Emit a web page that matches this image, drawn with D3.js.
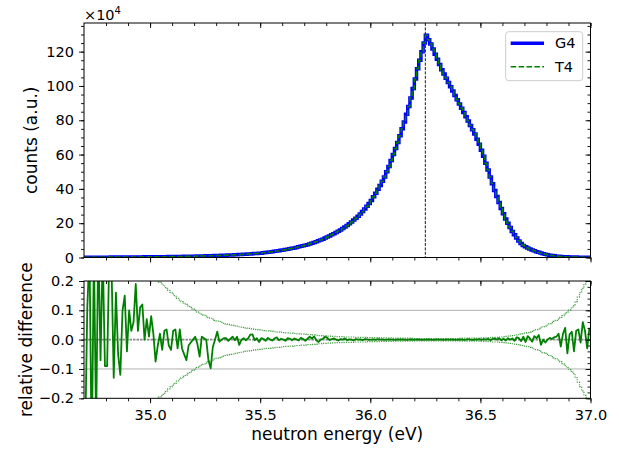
<!DOCTYPE html>
<html>
<head>
<meta charset="utf-8">
<script src="https://cdn.jsdelivr.net/npm/d3@7"></script>
<style>
  body { margin: 0; background: #ffffff; }
  svg  { font-family: 'DejaVu Sans', sans-serif; }
  .axis path { display: none; }
  .axis line { stroke: #000000; stroke-width: 0.9; }
  .axis text { font-family: 'DejaVu Sans', sans-serif; font-size: 14.5px; fill: #000000; }
</style>
</head>
<body>
<div id="graph"></div>
<script>
// Histogram binning (eV): 230 bins of 0.01 eV starting at 34.70
var energyStart = 34.70;
var binWidth    = 0.01;
var nBins       = 230;

// G4 counts per bin (units of 1e4)
var g4Counts = [
    0.15, 0.15, 0.16, 0.16, 0.17, 0.17, 0.18, 0.18, 0.19, 0.19,
    0.20, 0.21, 0.22, 0.23, 0.24, 0.25, 0.26, 0.27, 0.28, 0.29,
    0.30, 0.31, 0.32, 0.33, 0.34, 0.35, 0.36, 0.37, 0.38, 0.39,
    0.40, 0.41, 0.43, 0.44, 0.46, 0.47, 0.49, 0.50, 0.52, 0.53,
    0.55, 0.57, 0.60, 0.62, 0.65, 0.67, 0.70, 0.72, 0.75, 0.77,
    0.80, 0.83, 0.87, 0.90, 0.94, 0.97, 1.01, 1.05, 1.09, 1.12,
    1.15, 1.20, 1.25, 1.30, 1.35, 1.40, 1.46, 1.52, 1.58, 1.64,
    1.70, 1.77, 1.85, 1.93, 2.01, 2.10, 2.19, 2.28, 2.37, 2.45,
    2.55, 2.70, 2.85, 3.00, 3.20, 3.40, 3.60, 3.80, 4.00, 4.20,
    4.35, 4.60, 4.85, 5.10, 5.35, 5.60, 5.90, 6.20, 6.50, 6.80,
    7.1, 7.5, 7.9, 8.3, 8.8, 9.2, 9.7, 10.2, 10.7, 11.3,
    11.9, 12.5, 13.2, 13.9, 14.6, 15.3, 16.1, 16.9, 17.8, 18.7,
    19.7, 20.7, 21.8, 22.9, 24.1, 25.4, 26.8, 28.3, 29.9, 31.5,
    33.3, 35.4, 37.5, 39.8, 42.0, 44.5, 47.0, 50.0, 53.0, 56.5,
    60.0, 63.5, 67.0, 71.0, 75.0, 79.0, 83.5, 88.0, 93.0, 98.5,
    104, 110, 115, 120, 125, 129.5, 127, 124.5, 121.5, 118.5,
    115.5, 112.5, 109.5, 107, 104.5, 102, 99.5, 97, 94.5, 92,
    89.5, 87, 84.5, 82, 79.5, 77, 74.5, 72, 69, 66,
    62.5, 59, 55, 51, 47, 43, 39, 35.5, 32, 28.5,
    25.5, 22.5, 20.0, 17.5, 15.2, 13.2, 11.4, 9.6, 8.2, 7.0,
    6.2, 5.5, 4.9, 4.4, 3.9, 3.4, 3.0, 2.6, 2.2, 1.9,
    1.6, 1.35, 1.15, 0.95, 0.80, 0.68, 0.58, 0.50, 0.43, 0.37,
    0.31, 0.28, 0.25, 0.22, 0.20, 0.18, 0.16, 0.15, 0.14, 0.13
];

// T4 counts per bin (units of 1e4)
var t4Counts = [
    0.14, 0.17, 0.17, 0.15, 0.18, 0.16, 0.19, 0.17, 0.20, 0.18,
    0.19, 0.22, 0.23, 0.22, 0.25, 0.24, 0.25, 0.28, 0.29, 0.28,
    0.31, 0.31, 0.33, 0.35, 0.34, 0.36, 0.37, 0.37, 0.39, 0.39,
    0.42, 0.41, 0.40, 0.44, 0.46, 0.46, 0.50, 0.51, 0.51, 0.52,
    0.56, 0.58, 0.60, 0.62, 0.64, 0.65, 0.69, 0.71, 0.74, 0.77,
    0.80, 0.83, 0.83, 0.90, 0.94, 0.97, 0.95, 0.96, 1.07, 1.12,
    1.18, 1.19, 1.25, 1.30, 1.35, 1.40, 1.46, 1.53, 1.58, 1.66,
    1.67, 1.77, 1.85, 1.93, 2.02, 2.13, 2.23, 2.28, 2.38, 2.43,
    2.56, 2.70, 2.84, 3.01, 3.20, 3.39, 3.61, 3.83, 4.00, 4.21,
    4.35, 4.58, 4.87, 5.11, 5.34, 5.62, 5.90, 6.18, 6.54, 6.81,
    7.1, 7.5, 8.0, 8.3, 8.9, 9.2, 9.6, 10.2, 10.7, 11.4,
    12.0, 12.5, 13.2, 13.9, 14.6, 15.3, 16.1, 16.9, 17.9, 18.7,
    19.7, 20.7, 21.7, 22.9, 24.1, 25.4, 26.7, 28.4, 29.9, 31.5,
    33.3, 35.4, 37.5, 39.9, 42.0, 44.5, 47.0, 50.0, 53.1, 56.5,
    60.0, 63.4, 67.1, 71.0, 75.1, 79.0, 83.4, 88.0, 93.1, 98.5,
    104, 110, 115, 120, 125, 129.5, 127, 124.5, 121.4, 118.5,
    115.6, 112.5, 109.5, 106.9, 104.6, 102, 99.5, 97.1, 94.4, 92,
    89.5, 87.1, 84.4, 82, 79.7, 77, 74.4, 72.1, 69, 66.1,
    62.4, 59.1, 55, 51.2, 46.9, 43.1, 39.2, 35.5, 32.2, 28.4,
    25.6, 22.4, 20.1, 17.5, 15.3, 13.1, 11.5, 9.7, 8.2, 7.1,
    6.1, 5.6, 4.9, 4.4, 3.9, 3.4, 2.9, 2.6, 2.2, 1.9,
    1.6, 1.36, 1.15, 0.96, 0.81, 0.69, 0.57, 0.51, 0.45, 0.35,
    0.32, 0.29, 0.24, 0.23, 0.21, 0.18, 0.17, 0.15, 0.14, 0.14
];

// relative difference per bin
var relDiff = [
    -0.35, 0.11, 0.30, -0.40, 0.30, -0.30, 0.35, -0.07, 0.30, -0.09,
    -0.09, 0.30, 0.25, -0.13, 0.16, -0.05, -0.12, 0.10, 0.15, -0.04,
    0.10, 0.03, 0.06, 0.19, 0.03, 0.11, 0.12, 0.00, 0.07, 0.01,
    0.08, 0.02, -0.075, -0.02, 0.02, -0.035, 0.03, 0.035, -0.02, -0.035,
    0.03, 0.035, -0.03, 0.035, -0.03, -0.05, -0.07, -0.02, -0.01, 0.00,
    0.01, -0.015, -0.058, 0.01, 0.005, 0.0, -0.07, -0.098, -0.025, 0.0,
    0.027, -0.007, 0.0, 0.005, 0.005, -0.004, 0.003, 0.01, -0.002, 0.01,
    -0.018, 0.0, 0.005, -0.002, 0.004, 0.017, 0.018, -0.002, 0.005, -0.008,
    0.005, 0.002, -0.004, 0.006, 0.0, -0.003, 0.004, 0.008, -0.002, 0.003,
    0.0, -0.004, 0.005, 0.003, -0.002, 0.004, 0.001, -0.003, 0.006, 0.002,
    -0.004, 0.003, 0.01, 0.004, 0.011, -0.002, -0.008, 0.0, 0.003, 0.01,
    0.006, -0.002, 0.002, 0.004, 0.0, -0.003, 0.002, 0.0, 0.004, -0.002,
    0.001, 0.0, -0.003, 0.002, 0.0, 0.001, -0.002, 0.002, 0.001, -0.001,
    0.0, 0.001, -0.001, 0.002, 0.0, 0.001, -0.001, 0.0, 0.001, 0.0,
    0.0, -0.001, 0.001, 0.0, 0.001, 0.0, -0.001, 0.0, 0.001, 0.0,
    0.0, 0.001, 0.0, -0.001, 0.0, 0.0, 0.001, 0.0, -0.001, 0.0,
    0.001, 0.0, 0.0, -0.001, 0.001, 0.0, 0.0, 0.001, -0.001, 0.0,
    0.0, 0.001, -0.001, 0.0, 0.002, 0.0, -0.001, 0.001, 0.0, 0.002,
    -0.001, 0.002, 0.0, 0.003, -0.002, 0.002, 0.004, 0.0, 0.005, -0.002,
    0.003, -0.003, 0.005, 0.0, 0.004, -0.004, 0.008, 0.005, -0.005, 0.01,
    -0.008, 0.012, 0.004, -0.007, 0.012, 0.005, 0.016, -0.018, 0.0, -0.01,
    0.0, 0.006, 0.002, 0.008, 0.01, 0.02, -0.024, 0.02, 0.04, -0.047,
    0.018, 0.027, -0.04, 0.03, 0.035, -0.01, 0.06, 0.03, -0.03, 0.04
];

// statistical uncertainty band (+/-) per bin
var relError = [
    0.45, 0.44, 0.43, 0.42, 0.41, 0.40, 0.39, 0.38, 0.37, 0.36,
    0.35, 0.342, 0.334, 0.326, 0.318, 0.31, 0.302, 0.294, 0.286, 0.278,
    0.27, 0.265, 0.26, 0.255, 0.25, 0.245, 0.24, 0.235, 0.23, 0.225,
    0.22, 0.213, 0.206, 0.20, 0.195, 0.19, 0.183, 0.175, 0.168, 0.161,
    0.155, 0.148, 0.141, 0.135, 0.13, 0.125, 0.12, 0.115, 0.11, 0.105,
    0.10, 0.095, 0.09, 0.087, 0.083, 0.08, 0.076, 0.073, 0.07, 0.066,
    0.063, 0.061, 0.059, 0.056, 0.054, 0.052, 0.05, 0.049, 0.047, 0.046,
    0.044, 0.043, 0.042, 0.04, 0.039, 0.038, 0.037, 0.035, 0.034, 0.033,
    0.032, 0.031, 0.03, 0.03, 0.029, 0.028, 0.027, 0.026, 0.026, 0.025,
    0.024, 0.023, 0.023, 0.022, 0.022, 0.021, 0.02, 0.02, 0.019, 0.019,
    0.018, 0.017, 0.017, 0.016, 0.016, 0.015, 0.014, 0.014, 0.013, 0.013,
    0.012, 0.012, 0.011, 0.011, 0.010, 0.010, 0.010, 0.010, 0.009, 0.009,
    0.009, 0.009, 0.009, 0.008, 0.008, 0.008, 0.008, 0.008, 0.007, 0.007,
    0.007, 0.007, 0.007, 0.007, 0.006, 0.006, 0.006, 0.006, 0.006, 0.006,
    0.005, 0.005, 0.005, 0.005, 0.005, 0.005, 0.005, 0.005, 0.005, 0.004,
    0.004, 0.004, 0.004, 0.004, 0.004, 0.004, 0.004, 0.004, 0.004, 0.004,
    0.004, 0.004, 0.004, 0.004, 0.004, 0.004, 0.004, 0.004, 0.004, 0.004,
    0.005, 0.005, 0.005, 0.005, 0.005, 0.005, 0.005, 0.005, 0.005, 0.005,
    0.006, 0.006, 0.006, 0.007, 0.007, 0.008, 0.008, 0.008, 0.009, 0.009,
    0.010, 0.011, 0.012, 0.013, 0.014, 0.015, 0.016, 0.017, 0.019, 0.020,
    0.022, 0.024, 0.026, 0.028, 0.031, 0.034, 0.037, 0.040, 0.044, 0.047,
    0.050, 0.054, 0.058, 0.062, 0.066, 0.070, 0.076, 0.082, 0.088, 0.095,
    0.101, 0.108, 0.116, 0.13, 0.145, 0.16, 0.175, 0.19, 0.21, 0.235
];

var peakEnergy   = 36.25;
var countTicks   = [ 0, 20, 40, 60, 80, 100, 120 ];
var diffTicks    = [ -0.2, -0.1, 0.0, 0.1, 0.2 ];
var energyTicks  = [ 35.0, 35.5, 36.0, 36.5, 37.0 ];
var seriesNames  = [ 'G4', 'T4' ];


function D3Chart ()
{
    var width  = 619;
    var height = 450;

    var plotLeft  = 84;
    var plotRight = 590.5;
    var topPanel  = { top: 23,  bottom: 257.5 };
    var botPanel  = { top: 281, bottom: 398.3 };

    var fmt = function (d) { return d3.format ('.1f')(d).replace ('-', '\u2212'); };

    var svg = d3.select ('#graph').append ('svg')
                .attr ('width', width)
                .attr ('height', height);

    var xScale = d3.scaleLinear ()
                   .domain ([ 34.70, 37.0 ])
                   .range ([ plotLeft, plotRight ]);

    var yTop = d3.scaleLinear ()
                 .domain ([ 0, 136.7 ])
                 .range ([ topPanel.bottom, topPanel.top ]);

    var yBot = d3.scaleLinear ()
                 .domain ([ -0.2, 0.2 ])
                 .range ([ botPanel.bottom, botPanel.top ]);

    var binEdges   = d3.range (nBins + 1).map (function (i) { return energyStart + i * binWidth; });
    var binCenters = d3.range (nBins).map (function (i) { return energyStart + (i + 0.5) * binWidth; });

    var minorEnergy = d3.range (34.8, 37.001, 0.1);
    var minorCounts = d3.range (0, 136, 5);
    var minorDiff   = d3.range (-0.2, 0.2001, 0.02);

    // clip paths
    var defs = svg.append ('defs');
    defs.append ('clipPath').attr ('id', 'clipTop').append ('rect')
        .attr ('x', plotLeft).attr ('y', topPanel.top)
        .attr ('width', plotRight - plotLeft).attr ('height', topPanel.bottom - topPanel.top);
    defs.append ('clipPath').attr ('id', 'clipBot').append ('rect')
        .attr ('x', plotLeft).attr ('y', botPanel.top)
        .attr ('width', plotRight - plotLeft).attr ('height', botPanel.bottom - botPanel.top);

    //
    // Top panel: counts
    //
    var histLine = function (values)
    {
        return d3.line ()
                 .x (function (d) { return xScale (d); })
                 .y (function (d, i) { return yTop (values[Math.min (i, values.length - 1)]); })
                 .curve (d3.curveStepAfter) (binEdges);
    };

    var topG = svg.append ('g').attr ('clip-path', 'url(#clipTop)');

    topG.append ('line')
        .attr ('x1', xScale (peakEnergy)).attr ('x2', xScale (peakEnergy))
        .attr ('y1', topPanel.top).attr ('y2', topPanel.bottom)
        .attr ('stroke', '#000000')
        .attr ('stroke-width', 0.9)
        .attr ('stroke-dasharray', '3,1.4');

    topG.append ('path')
        .attr ('d', histLine (g4Counts))
        .attr ('fill', 'none')
        .attr ('stroke', '#0000ff')
        .attr ('stroke-width', 3.5)
        .attr ('stroke-linejoin', 'miter');

    topG.append ('path')
        .attr ('d', histLine (t4Counts))
        .attr ('fill', 'none')
        .attr ('stroke', '#008000')
        .attr ('stroke-width', 1.5)
        .attr ('stroke-dasharray', '5.5,2.4');

    // axes (left / bottom outward, top / right inward)
    svg.append ('g').attr ('class', 'axis')
       .attr ('transform', 'translate(' + plotLeft + ',0)')
       .call (d3.axisLeft (yTop).tickValues (countTicks).tickSize (5).tickPadding (5));
    svg.append ('g').attr ('class', 'axis')
       .attr ('transform', 'translate(' + plotLeft + ',0)')
       .call (d3.axisLeft (yTop).tickValues (minorCounts).tickSize (3).tickFormat (''));
    svg.append ('g').attr ('class', 'axis')
       .attr ('transform', 'translate(' + plotRight + ',0)')
       .call (d3.axisLeft (yTop).tickValues (countTicks).tickSize (5).tickFormat (''));
    svg.append ('g').attr ('class', 'axis')
       .attr ('transform', 'translate(' + plotRight + ',0)')
       .call (d3.axisLeft (yTop).tickValues (minorCounts).tickSize (3).tickFormat (''));
    svg.append ('g').attr ('class', 'axis')
       .attr ('transform', 'translate(0,' + topPanel.bottom + ')')
       .call (d3.axisBottom (xScale).tickValues (energyTicks).tickSize (5).tickFormat (''));
    svg.append ('g').attr ('class', 'axis')
       .attr ('transform', 'translate(0,' + topPanel.bottom + ')')
       .call (d3.axisBottom (xScale).tickValues (minorEnergy).tickSize (3).tickFormat (''));
    svg.append ('g').attr ('class', 'axis')
       .attr ('transform', 'translate(0,' + topPanel.top + ')')
       .call (d3.axisBottom (xScale).tickValues (energyTicks).tickSize (5).tickFormat (''));
    svg.append ('g').attr ('class', 'axis')
       .attr ('transform', 'translate(0,' + topPanel.top + ')')
       .call (d3.axisBottom (xScale).tickValues (minorEnergy).tickSize (3).tickFormat (''));

    svg.append ('rect')
       .attr ('x', plotLeft).attr ('y', topPanel.top)
       .attr ('width', plotRight - plotLeft).attr ('height', topPanel.bottom - topPanel.top)
       .attr ('fill', 'none').attr ('stroke', '#000000').attr ('stroke-width', 1);

    // x 10^4 offset text
    var offs = svg.append ('text')
                  .attr ('x', plotLeft).attr ('y', 19.5)
                  .attr ('font-size', '14.5px');
    offs.append ('tspan').text ('\u00d710');
    offs.append ('tspan').attr ('font-size', '10px').attr ('dy', -6).text ('4');

    svg.append ('text')
       .attr ('transform', 'translate(31,' + ((topPanel.top + topPanel.bottom) / 2) + ') rotate(-90)')
       .attr ('text-anchor', 'middle')
       .attr ('dominant-baseline', 'central')
       .attr ('font-size', '17px')
       .text ('counts (a.u.)');

    // legend
    var leg = svg.append ('g');
    leg.append ('rect')
       .attr ('x', 505.7).attr ('y', 31.7).attr ('width', 77).attr ('height', 49)
       .attr ('rx', 3)
       .attr ('fill', '#ffffff').attr ('fill-opacity', 0.8)
       .attr ('stroke', '#cccccc').attr ('stroke-width', 1);
    leg.append ('line')
       .attr ('x1', 510.7).attr ('x2', 544).attr ('y1', 43.3).attr ('y2', 43.3)
       .attr ('stroke', '#0000ff').attr ('stroke-width', 3.5);
    leg.append ('line')
       .attr ('x1', 510.7).attr ('x2', 544).attr ('y1', 66.7).attr ('y2', 66.7)
       .attr ('stroke', '#008000').attr ('stroke-width', 1.5)
       .attr ('stroke-dasharray', '5.5,2.4');
    leg.selectAll ('text.legtxt')
       .data (seriesNames)
       .enter ()
       .append ('text')
       .attr ('class', 'legtxt')
       .attr ('x', 555)
       .attr ('y', function (d, i) { return [ 43.3, 66.7 ][i]; })
       .attr ('dominant-baseline', 'central')
       .attr ('font-size', '14.5px')
       .text (function (d) { return d; });

    //
    // Bottom panel: relative difference
    //
    var botG = svg.append ('g').attr ('clip-path', 'url(#clipBot)');

    botG.selectAll ('line.grid')
        .data ([ -0.1, 0.1 ])
        .enter ()
        .append ('line')
        .attr ('class', 'grid')
        .attr ('x1', plotLeft).attr ('x2', plotRight)
        .attr ('y1', function (d) { return yBot (d); })
        .attr ('y2', function (d) { return yBot (d); })
        .attr ('stroke', '#b0b0b0').attr ('stroke-width', 1);

    botG.append ('line')
        .attr ('x1', plotLeft).attr ('x2', plotRight)
        .attr ('y1', yBot (0)).attr ('y2', yBot (0))
        .attr ('stroke', '#888888').attr ('stroke-width', 1.6)
        .attr ('stroke-dasharray', '2.5,1');

    var bandLine = function (sign)
    {
        return d3.line ()
                 .x (function (d) { return xScale (d); })
                 .y (function (d, i) { return yBot (sign * relError[Math.min (i, relError.length - 1)]); })
                 .curve (d3.curveStepAfter) (binEdges);
    };

    [ 1, -1 ].forEach (function (s)
    {
        botG.append ('path')
            .attr ('d', bandLine (s))
            .attr ('fill', 'none')
            .attr ('stroke', '#008000')
            .attr ('stroke-opacity', 0.75)
            .attr ('stroke-width', 1.2)
            .attr ('stroke-dasharray', '1.2,1.2');
    });

    botG.append ('path')
        .datum (relDiff)
        .attr ('d', d3.line ()
                      .x (function (d, i) { return xScale (binCenters[i]); })
                      .y (function (d) { return yBot (d); }))
        .attr ('fill', 'none')
        .attr ('stroke', '#008000')
        .attr ('stroke-width', 1.8)
        .attr ('stroke-linejoin', 'round');

    svg.append ('g').attr ('class', 'axis')
       .attr ('transform', 'translate(' + plotLeft + ',0)')
       .call (d3.axisLeft (yBot).tickValues (diffTicks).tickSize (5).tickPadding (5).tickFormat (fmt));
    svg.append ('g').attr ('class', 'axis')
       .attr ('transform', 'translate(' + plotLeft + ',0)')
       .call (d3.axisLeft (yBot).tickValues (minorDiff).tickSize (3).tickFormat (''));
    svg.append ('g').attr ('class', 'axis')
       .attr ('transform', 'translate(' + plotRight + ',0)')
       .call (d3.axisLeft (yBot).tickValues (diffTicks).tickSize (5).tickFormat (''));
    svg.append ('g').attr ('class', 'axis')
       .attr ('transform', 'translate(' + plotRight + ',0)')
       .call (d3.axisLeft (yBot).tickValues (minorDiff).tickSize (3).tickFormat (''));
    svg.append ('g').attr ('class', 'axis')
       .attr ('transform', 'translate(0,' + botPanel.bottom + ')')
       .call (d3.axisBottom (xScale).tickValues (energyTicks).tickSize (5).tickPadding (6.5).tickFormat (fmt));
    svg.append ('g').attr ('class', 'axis')
       .attr ('transform', 'translate(0,' + botPanel.bottom + ')')
       .call (d3.axisBottom (xScale).tickValues (minorEnergy).tickSize (3).tickFormat (''));
    svg.append ('g').attr ('class', 'axis')
       .attr ('transform', 'translate(0,' + botPanel.top + ')')
       .call (d3.axisBottom (xScale).tickValues (energyTicks).tickSize (5).tickFormat (''));
    svg.append ('g').attr ('class', 'axis')
       .attr ('transform', 'translate(0,' + botPanel.top + ')')
       .call (d3.axisBottom (xScale).tickValues (minorEnergy).tickSize (3).tickFormat (''));

    svg.append ('rect')
       .attr ('x', plotLeft).attr ('y', botPanel.top)
       .attr ('width', plotRight - plotLeft).attr ('height', botPanel.bottom - botPanel.top)
       .attr ('fill', 'none').attr ('stroke', '#000000').attr ('stroke-width', 1);

    svg.append ('text')
       .attr ('transform', 'translate(25.5,' + ((botPanel.top + botPanel.bottom) / 2) + ') rotate(-90)')
       .attr ('text-anchor', 'middle')
       .attr ('dominant-baseline', 'central')
       .attr ('font-size', '17px')
       .text ('relative difference');

    svg.append ('text')
       .attr ('x', (plotLeft + plotRight) / 2)
       .attr ('y', 440)
       .attr ('text-anchor', 'middle')
       .attr ('font-size', '17px')
       .text ('neutron energy (eV)');

} // D3Chart

D3Chart ();
</script>
</body>
</html>
